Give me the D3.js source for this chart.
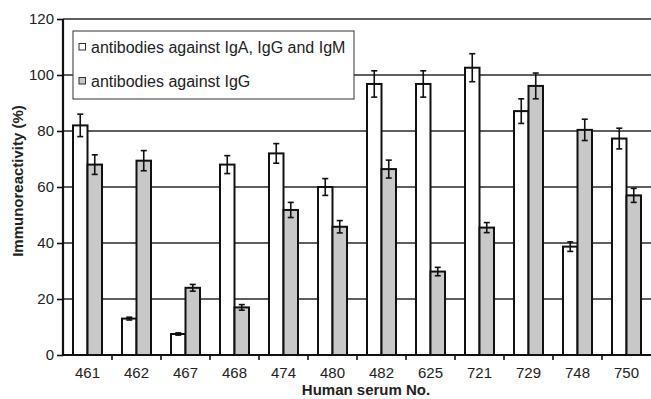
<!DOCTYPE html>
<html>
<head>
<meta charset="utf-8">
<script src="https://cdn.jsdelivr.net/npm/d3@7"></script>
<style>
  body { margin: 0; background: #fff; }
  svg { font-family: Arial, "Liberation Sans", Helvetica, sans-serif; }
</style>
</head>
<body>
<svg id="chart" width="651" height="399"></svg>
<script>
const sera = ['461', '462', '467', '468', '474', '480', '482', '625', '721', '729', '748', '750']
const seriesNames = ['antibodies against IgA, IgG and IgM', 'antibodies against IgG']
const totalVals = [82, 13, 7.5, 68, 72, 60, 96.8, 96.8, 102.6, 87.1, 38.7, 77.3]
const totalErr = [4, 0.5, 0.4, 3.2, 3.5, 3, 4.7, 4.7, 5, 4.4, 1.7, 3.7]
const iggVals = [68, 69.4, 24, 17, 51.8, 45.8, 66.4, 29.8, 45.5, 96.1, 80.4, 57]
const iggErr = [3.5, 3.6, 1.2, 1, 2.7, 2.2, 3.2, 1.5, 1.8, 4.6, 3.8, 2.5]
const yTicks = [0, 20, 40, 60, 80, 100, 120]
const fills = ['#ffffff', '#c8c8c8']

const margin = { top: 19, right: 0, bottom: 44, left: 63 }
const width = 651, height = 399
const svg = d3.select('#chart')
const FONT = 'Arial, "Liberation Sans", Helvetica, sans-serif'

const x = d3.scaleBand().domain(sera).range([margin.left, width - margin.right])
const xs = d3.scaleBand().domain([0, 1]).range([10, x.bandwidth() - 10])
const y = d3.scaleLinear().domain([0, 120]).range([height - margin.bottom, margin.top])

const rows = sera.map((s, i) => [
    { s, k: 0, v: totalVals[i], e: totalErr[i] },
    { s, k: 1, v: iggVals[i], e: iggErr[i] }
])

// gridlines
svg.append('g')
    .selectAll('line')
    .data(yTicks.filter(t => t > 0))
    .join('line')
    .attr('x1', margin.left).attr('x2', width)
    .attr('y1', d => y(d)).attr('y2', d => y(d))
    .attr('stroke', '#2a2a2a')
    .attr('stroke-width', d => d === 120 ? 1.6 : 1.3)

// legend box (sits over gridlines)
const lg = svg.append('g')
lg.append('rect')
    .attr('x', 73).attr('y', 31).attr('width', 281).attr('height', 68)
    .attr('fill', '#fff').attr('stroke', '#333').attr('stroke-width', 1)
seriesNames.forEach((n, i) => {
    const yy = 47 + i * 34
    lg.append('rect')
        .attr('x', 79).attr('y', yy - 3.5).attr('width', 6.5).attr('height', 6.5)
        .attr('fill', fills[i]).attr('stroke', '#333').attr('stroke-width', 1)
    lg.append('text')
        .attr('x', 91).attr('y', yy + 5.5)
        .attr('font-size', '16px').attr('fill', '#222')
        .text(n)
})

// bars
const grp = svg.append('g')
    .selectAll('g')
    .data(rows)
    .join('g')
    .attr('transform', d => `translate(${x(d[0].s)},0)`)

grp.selectAll('rect')
    .data(d => d)
    .join('rect')
    .attr('x', d => xs(d.k))
    .attr('width', xs.bandwidth())
    .attr('y', d => y(d.v))
    .attr('height', d => y(0) - y(d.v))
    .attr('fill', d => fills[d.k])
    .attr('stroke', '#111')
    .attr('stroke-width', 2)

// error bars
const eb = grp.selectAll('g.err')
    .data(d => d)
    .join('g')
    .attr('class', 'err')
    .attr('stroke', '#111')
    .attr('stroke-width', 1.6)
eb.append('line')
    .attr('x1', d => xs(d.k) + xs.bandwidth() / 2)
    .attr('x2', d => xs(d.k) + xs.bandwidth() / 2)
    .attr('y1', d => y(d.v + d.e)).attr('y2', d => y(d.v - d.e))
eb.selectAll('line.cap')
    .data(d => [[d, d.v + d.e], [d, d.v - d.e]])
    .join('line')
    .attr('class', 'cap')
    .attr('x1', d => xs(d[0].k) + xs.bandwidth() / 2 - 3)
    .attr('x2', d => xs(d[0].k) + xs.bandwidth() / 2 + 3)
    .attr('y1', d => y(d[1])).attr('y2', d => y(d[1]))

// y axis
const yAxis = svg.append('g')
    .attr('transform', `translate(${margin.left},0)`)
    .call(d3.axisLeft(y).tickValues(yTicks).tickSize(6).tickPadding(3))
yAxis.select('.domain').attr('stroke', '#111').attr('stroke-width', 2.2)
    .attr('d', `M0,${y(0)}V${y(120)}`)
yAxis.selectAll('.tick line').attr('stroke', '#111').attr('stroke-width', 1.6)
yAxis.selectAll('.tick text').attr('font-size', '15px').attr('fill', '#222')
    .attr('font-family', FONT)

// x axis
const xAxis = svg.append('g')
    .attr('transform', `translate(0,${y(0)})`)
    .call(d3.axisBottom(x).tickSize(0).tickPadding(12))
xAxis.select('.domain').attr('stroke', '#111').attr('stroke-width', 2.2)
    .attr('d', `M${margin.left},0H${width}`)
xAxis.selectAll('.tick text').attr('font-size', '15px').attr('fill', '#222')
    .attr('font-family', FONT)
// ticks between categories
xAxis.append('g')
    .selectAll('line')
    .data(sera.slice(1))
    .join('line')
    .attr('x1', d => x(d)).attr('x2', d => x(d))
    .attr('y1', 0).attr('y2', 5)
    .attr('stroke', '#111').attr('stroke-width', 1.6)

// titles
svg.append('text')
    .attr('transform', `translate(23,181) rotate(-90)`)
    .attr('text-anchor', 'middle')
    .attr('font-size', '15px').attr('font-weight', 'bold').attr('fill', '#222')
    .text('Immunoreactivity (%)')

svg.append('text')
    .attr('x', 366).attr('y', 395)
    .attr('text-anchor', 'middle')
    .attr('font-size', '15px').attr('font-weight', 'bold').attr('fill', '#222')
    .text('Human serum No.')
</script>
</body>
</html>
